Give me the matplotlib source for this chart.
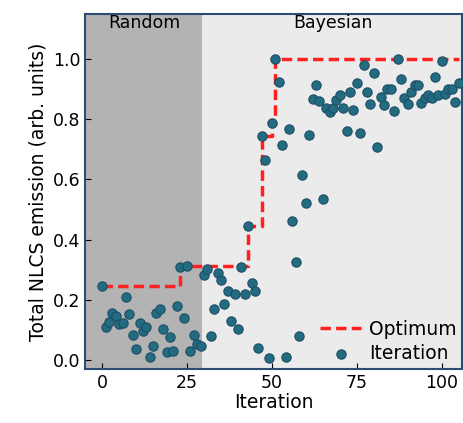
import matplotlib.pyplot as plt
import numpy as np

random_vals = [0.245, 0.11, 0.126, 0.155, 0.146, 0.12, 0.122, 0.21, 0.154, 0.084,
               0.035, 0.122, 0.095, 0.11, 0.009, 0.046, 0.155, 0.169, 0.104, 0.027,
               0.077, 0.03, 0.18, 0.307, 0.14, 0.313, 0.03, 0.084, 0.052, 0.045]
bayes_vals = [0.282, 0.303, 0.08, 0.17, 0.29, 0.265, 0.185, 0.23, 0.13, 0.22,
              0.104, 0.31, 0.22, 0.445, 0.255, 0.23, 0.04, 0.745, 0.666, 0.005,
              0.787, 1.0, 0.923, 0.715, 0.01, 0.768, 0.461, 0.325, 0.08, 0.616,
              0.52, 0.749, 0.868, 0.915, 0.86, 0.535, 0.836, 0.824, 0.836, 0.863,
              0.88, 0.836, 0.762, 0.89, 0.832, 0.919, 0.754, 0.981, 0.89, 0.852,
              0.954, 0.707, 0.875, 0.848, 0.90, 0.90, 0.826, 1.0, 0.935, 0.87,
              0.85, 0.89, 0.915, 0.915, 0.853, 0.87, 0.88, 0.87, 0.94, 0.88,
              0.995, 0.885, 0.9, 0.9, 0.857, 0.92]

vals = np.array(random_vals + bayes_vals)
iters = np.arange(len(vals))
optimum = np.maximum.accumulate(vals)
n_random = len(random_vals)

fig = plt.figure(figsize=(4.63, 4.23), dpi=100)
ax = fig.add_axes([0.184, 0.128, 0.814, 0.839])

ax.axvspan(-5, n_random - 0.5, color='#b3b3b3', zorder=0, lw=0)
ax.axvspan(n_random - 0.5, 106, color='#ebebeb', zorder=0, lw=0)

ax.plot(iters, optimum, '--', color='#ff2020', lw=2.5, drawstyle='steps-post',
        dashes=(3, 1.5), label='Optimum', zorder=2)
ax.scatter(iters, vals, s=45, color='#226b80', edgecolors='#1d4f66', lw=0.8,
           label='Iteration', zorder=3)

ax.text(12.5, 1.12, 'Random', ha='center', va='center', fontsize=12.5)
ax.text(68, 1.12, 'Bayesian', ha='center', va='center', fontsize=12.5)

ax.set_xlim(-5, 106)
ax.set_ylim(-0.03, 1.15)
ax.set_xticks([0, 25, 50, 75, 100])
ax.set_yticks([0, 0.2, 0.4, 0.6, 0.8, 1.0])
ax.tick_params(direction='in', labelsize=12.5, length=4)
ax.set_xlabel('Iteration', fontsize=13.5, labelpad=1)
ax.set_ylabel('Total NLCS emission (arb. units)', fontsize=13.5)
for s in ax.spines.values():
    s.set_color('#2b4c73')
    s.set_linewidth(1.5)

ax.legend(loc='lower right', frameon=False, fontsize=13.5, handlelength=2.2,
          borderpad=0.2, handletextpad=0.4, labelspacing=0.3, borderaxespad=0.1)

fig.savefig('out.png', dpi=100)
